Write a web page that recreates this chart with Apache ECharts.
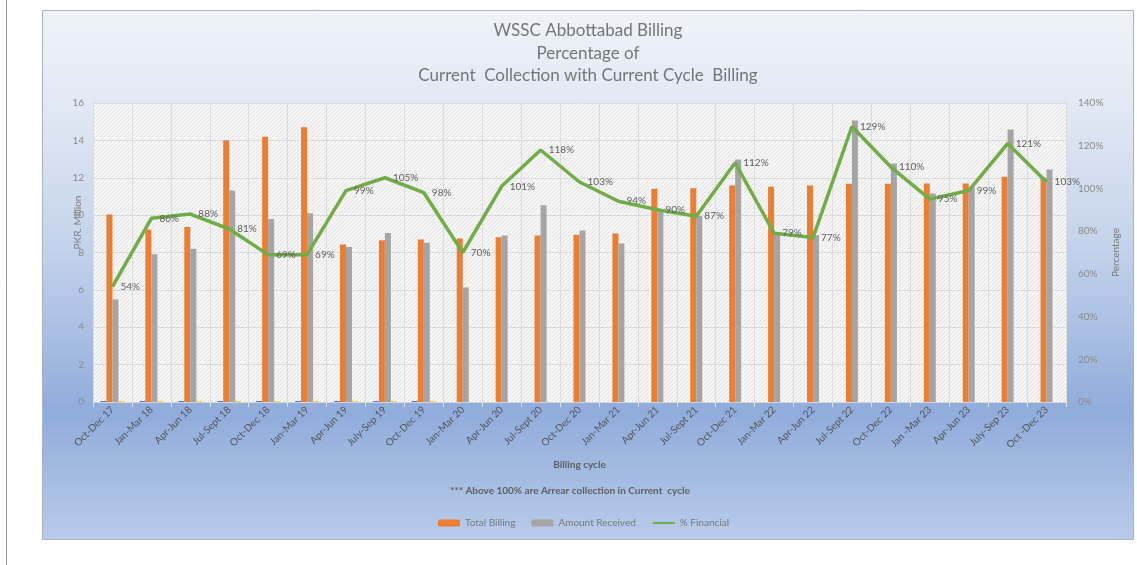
<!DOCTYPE html>
<html>
<head>
<meta charset="utf-8">
<script src="https://cdn.jsdelivr.net/npm/echarts@6/dist/echarts.min.js"></script>
<style>
  html, body { margin: 0; padding: 0; background: #ffffff; }
  #main { width: 1137px; height: 565px; }
</style>
</head>
<body>
<div id="main"></div>
<script>
  // billing cycles (x axis)
  const categories = [
    'Oct-Dec 17', 'Jan-Mar 18', 'Apr-Jun 18', 'Jul-Sept 18', 'Oct-Dec 18',
    'Jan-Mar 19', 'Apr-Jun 19', 'July-Sep 19', 'Oct-Dec 19', 'Jan-Mar 20',
    'Apr-Jun 20', 'Jul-Sept 20', 'Oct-Dec 20', 'Jan-Mar 21', 'Apr-Jun 21',
    'Jul-Sept 21', 'Oct-Dec 21', 'Jan-Mar 22', 'Apr-Jun 22', 'Jul-Sept 22',
    'Oct-Dec 22', 'Jan -Mar 23', 'Apr-Jun 23', 'July-Sep 23', 'Oct -Dec 23'
  ];

  // PKR million
  const totalBilling = [
    10.04, 9.23, 9.36, 14.01, 14.2,
    14.7, 8.43, 8.65, 8.7, 8.75,
    8.82, 8.91, 8.95, 9.02, 11.41,
    11.44, 11.59, 11.52, 11.59, 11.68,
    11.68, 11.69, 11.69, 12.05, 12.0
  ];
  const amountReceived = [
    5.49, 7.9, 8.2, 11.32, 9.79,
    10.1, 8.3, 9.04, 8.52, 6.13,
    8.91, 10.53, 9.18, 8.48, 10.3,
    9.95, 12.98, 9.08, 8.92, 15.06,
    12.76, 11.16, 11.55, 14.58, 12.44
  ];
  // % financial (collection / billing)
  const financialPct = [
    54, 86, 88, 81, 69,
    69, 99, 105, 98, 70,
    101, 118, 103, 94, 90,
    87, 112, 79, 77, 129,
    110, 95, 99, 121, 103
  ];
  // two near-empty helper series that sit either side of each pair in the sheet
  const helperBlue = [0.05, 0.05, 0.05, 0.05, 0.05, 0.05, 0.05, 0.05, 0.05, 0, 0, 0, 0, 0, 0, 0, 0, 0, 0, 0, 0, 0, 0, 0, 0];
  const helperYellow = [0.04, 0.04, 0.04, 0.04, 0.04, 0.04, 0.04, 0.04, 0.04, 0, 0, 0, 0, 0, 0, 0, 0, 0, 0, 0, 0, 0, 0, 0, 0];

  const titleLines = ['WSSC Abbottabad Billing', 'Percentage of', 'Current  Collection with Current Cycle  Billing'];
  const noteText = '*** Above 100% are Arrear collection in Current  cycle';

  const FONT = 'Lato, "Open Sans", sans-serif';

  // dotted texture for the plot area
  const hatch = document.createElement('canvas');
  hatch.width = 4;
  hatch.height = 4;
  const hctx = hatch.getContext('2d');
  hctx.fillStyle = '#f6f6f6';
  hctx.fillRect(0, 0, 4, 4);
  hctx.fillStyle = '#dcdcdc';
  hctx.fillRect(0, 0, 1, 1);
  hctx.fillRect(2, 2, 1, 1);
  hctx.fillStyle = '#e9e9e9';
  hctx.fillRect(1, 3, 1, 1);
  hctx.fillRect(3, 1, 1, 1);

  const chart = echarts.init(document.getElementById('main'));

  // title lines as plain text elements
  const titleGraphics = titleLines.map((t, i) => ({
    type: 'text',
    x: 588, y: 31 + i * 22.5,
    silent: true,
    style: {
      text: t, fill: '#767676', font: '17px ' + FONT,
      align: 'center', verticalAlign: 'middle'
    }
  }));

  const option = {
    animation: false,
    textStyle: { fontFamily: FONT },
    graphic: [
      {
        type: 'line', z: -20, silent: true,
        shape: { x1: 6.5, y1: 0, x2: 6.5, y2: 565 },
        style: { stroke: '#9a9a9a', lineWidth: 1 }
      },
      {
        type: 'rect', z: -10, silent: true,
        shape: { x: 42.5, y: 10.5, width: 1091, height: 529 },
        style: {
          stroke: '#a9b3c2', lineWidth: 1,
          fill: new echarts.graphic.LinearGradient(0, 0, 0, 1, [
            { offset: 0, color: '#eff2f8' },
            { offset: 0.18, color: '#e2e9f4' },
            { offset: 0.45, color: '#c3d2eb' },
            { offset: 0.76, color: '#90acdb' },
            { offset: 1, color: '#b9cbe9' }
          ])
        }
      },
      ...titleGraphics,
      {
        type: 'text',
        x: 570, y: 491,
        silent: true,
        style: {
          text: noteText, fill: '#5f5f5f', font: 'bold 10px ' + FONT,
          align: 'center', verticalAlign: 'middle'
        }
      }
    ],
    grid: {
      left: 93, right: 71, top: 103, bottom: 163,
      show: true,
      borderWidth: 0,
      backgroundColor: { image: hatch, repeat: 'repeat' }
    },
    legend: {
      bottom: 32,
      left: 433,
      itemWidth: 22,
      itemHeight: 7,
      itemGap: 16,
      data: [
        'Total Billing',
        'Amount Received',
        { name: '% Financial', itemStyle: { opacity: 0 } }
      ],
      textStyle: { color: '#7a7a7a', fontSize: 10, fontFamily: FONT }
    },
    xAxis: {
      type: 'category',
      data: categories,
      name: 'Billing cycle',
      nameLocation: 'middle',
      nameGap: 58,
      nameMoveOverlap: false,
      nameTextStyle: { color: '#5f5f5f', fontSize: 10, fontWeight: 'bold' },
      axisLine: { lineStyle: { color: '#d4d4d4' } },
      axisTick: { show: true, lineStyle: { color: '#e0e0e0' } },
      axisLabel: {
        interval: 0, rotate: 45, fontSize: 10, color: '#555555', margin: 6
      },
      splitLine: { show: true, lineStyle: { color: '#dcdcdc', width: 1 } }
    },
    yAxis: [
      {
        type: 'value',
        min: 0, max: 16, interval: 2,
        name: 'PKR. Million',
        nameLocation: 'middle',
        nameGap: 10,
        nameRotate: 90,
        nameMoveOverlap: false,
        nameTextStyle: { color: '#7a7a7a', fontSize: 10, padding: [0, 0, 0, 60] },
        axisLine: { show: false },
        axisTick: { show: false },
        axisLabel: { color: '#8a8a8a', fontSize: 10, margin: 9 },
        splitLine: { show: true, lineStyle: { color: '#dcdcdc', width: 1 } }
      },
      {
        type: 'value',
        min: 0, max: 140, interval: 20,
        name: 'Percentage',
        nameLocation: 'middle',
        nameGap: 45,
        nameRotate: 90,
        nameMoveOverlap: false,
        nameTextStyle: { color: '#7a7a7a', fontSize: 10 },
        axisLine: { show: false },
        axisTick: { show: false },
        axisLabel: { color: '#8a8a8a', fontSize: 10, margin: 12, formatter: '{value}%' },
        splitLine: { show: false }
      }
    ],
    series: [
      {
        name: 'helper1',
        type: 'bar',
        data: helperBlue,
        barWidth: 6,
        barGap: '0%',
        itemStyle: { color: '#4472c4' }
      },
      {
        name: 'Total Billing',
        type: 'bar',
        data: totalBilling,
        barWidth: 6,
        barGap: '0%',
        itemStyle: { color: '#ed7d31' }
      },
      {
        name: 'Amount Received',
        type: 'bar',
        data: amountReceived,
        barWidth: 6,
        barGap: '0%',
        itemStyle: { color: '#a5a5a5' }
      },
      {
        name: 'helper2',
        type: 'bar',
        data: helperYellow,
        barWidth: 6,
        barGap: '0%',
        itemStyle: { color: '#ffc000' }
      },
      {
        name: '% Financial',
        type: 'line',
        yAxisIndex: 1,
        data: financialPct,
        symbol: 'circle',
        symbolSize: 0.1,
        showSymbol: true,
        lineStyle: { color: '#70ad47', width: 3.5 },
        itemStyle: { color: '#70ad47' },
        label: {
          show: true,
          position: 'right',
          distance: 8,
          formatter: '{c}%',
          color: '#5f5f5f',
          fontSize: 10
        },
        z: 5
      }
    ]
  };

  chart.setOption(option);

  window.addEventListener('resize', function () {
    chart.resize();
  });
</script>
</body>
</html>
